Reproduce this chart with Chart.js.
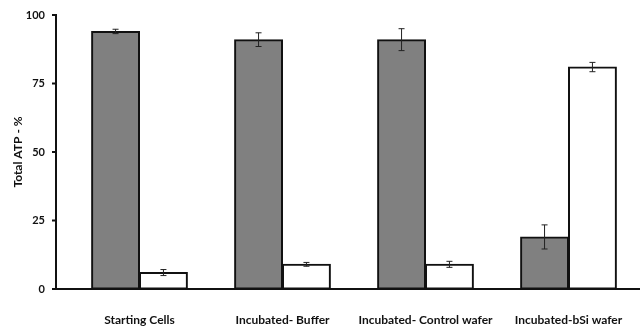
<!DOCTYPE html>
<html>
<head>
<meta charset="utf-8">
<script src="https://cdn.jsdelivr.net/npm/chart.js@4"></script>
<style>
  html, body { margin: 0; padding: 0; background: #fff; overflow: hidden; }
</style>
</head>
<body>
<canvas id="chart" width="640" height="329"></canvas>
<script>
// --- data ---
const categories = ['Starting Cells', 'Incubated- Buffer', 'Incubated- Control wafer', 'Incubated-bSi wafer'];
const grayValues = [94, 91, 91, 19];
const grayErrors = [0.8, 2.5, 4, 4.4];
const whiteValues = [6, 9, 9, 81];
const whiteErrors = [1.1, 0.7, 1.1, 1.7];
const yTicks = [0, 25, 50, 75, 100];

const AXIS_X = 56; // where the vertical axis line sits

// no automatic label padding, the layout below is fixed
function noPad(s) {
    s.paddingTop = 0; s.paddingBottom = 0;
    s.paddingLeft = 0; s.paddingRight = 0;
}

// draws the axis lines and the error bars
const extras = {
    id: 'extras',
    afterDatasetsDraw(chart) {
        const ctx = chart.ctx;
        const y = chart.scales.y;
        const errs = [grayErrors, whiteErrors];
        ctx.save();
        ctx.strokeStyle = '#222';
        ctx.lineWidth = 1;
        chart.data.datasets.forEach((ds, d) => {
            chart.getDatasetMeta(d).data.forEach((bar, i) => {
                const v = ds.data[i];
                const top = y.getPixelForValue(v + errs[d][i]);
                const bot = y.getPixelForValue(v - errs[d][i]);
                ctx.beginPath();
                ctx.moveTo(bar.x, top); ctx.lineTo(bar.x, bot);
                ctx.moveTo(bar.x - 3, top); ctx.lineTo(bar.x + 3, top);
                ctx.moveTo(bar.x - 3, bot); ctx.lineTo(bar.x + 3, bot);
                ctx.stroke();
            });
        });
        // axes
        const area = chart.chartArea;
        ctx.strokeStyle = '#111';
        ctx.lineWidth = 2;
        ctx.beginPath();
        ctx.moveTo(AXIS_X, y.getPixelForValue(100) - 1);
        ctx.lineTo(AXIS_X, area.bottom);
        ctx.moveTo(AXIS_X - 1, area.bottom);
        ctx.lineTo(area.right, area.bottom);
        yTicks.forEach(t => {
            const py = y.getPixelForValue(t);
            ctx.moveTo(AXIS_X - 4, py);
            ctx.lineTo(AXIS_X, py);
        });
        ctx.stroke();
        ctx.restore();
    }
};

new Chart(document.getElementById('chart'), {
    type: 'bar',
    data: {
        labels: categories,
        datasets: [{
            data: grayValues,
            backgroundColor: '#808080',
            borderColor: '#111',
            borderWidth: 2,
            borderSkipped: false,
            inflateAmount: 0.5
        }, {
            data: whiteValues,
            backgroundColor: '#fff',
            borderColor: '#111',
            borderWidth: 2,
            borderSkipped: false,
            inflateAmount: 0.5
        }]
    },
    options: {
        responsive: false,
        animation: false,
        layout: { padding: { top: 15, right: 0, bottom: 0, left: 0 } },
        categoryPercentage: 0.67,
        barPercentage: 1,
        plugins: { legend: { display: false }, tooltip: { enabled: false } },
        scales: {
            x: {
                afterFit(s) { s.height = 40; noPad(s); },
                grid: { display: false, drawTicks: false },
                border: { display: false },
                ticks: {
                    padding: 24,
                    color: '#111',
                    font: { family: 'Lato', weight: 'bold', size: 12 },
                    maxRotation: 0,
                    autoSkip: false
                }
            },
            y: {
                min: 0,
                max: 100,
                afterFit(s) { s.width = 68; noPad(s); },
                afterBuildTicks(s) { s.ticks = yTicks.map(v => ({ value: v })); },
                grid: { display: false, drawTicks: false },
                border: { display: false },
                ticks: {
                    padding: 23,
                    color: '#111',
                    font: { family: 'Lato', weight: 'bold', size: 11 }
                },
                title: {
                    display: true,
                    text: 'Total ATP - %',
                    color: '#111',
                    padding: { top: 11, bottom: 0 },
                    font: { family: 'Lato', weight: 'bold', size: 12 }
                }
            }
        }
    },
    plugins: [extras]
});
</script>
</body>
</html>
